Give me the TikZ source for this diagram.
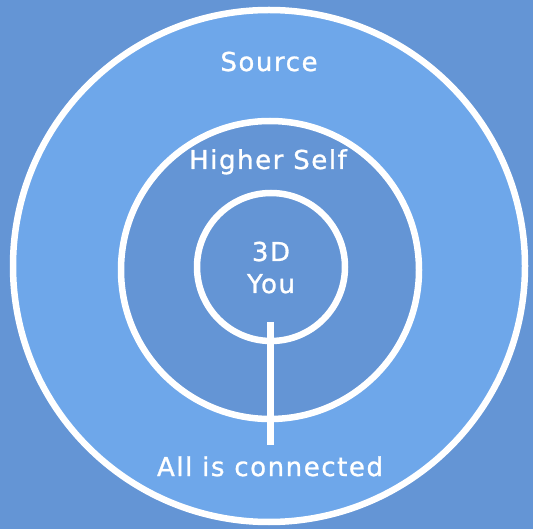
\documentclass[tikz,border=0pt]{standalone}
\usepackage{fontspec}
\setmainfont{DejaVu Sans}[LetterSpace=6,FakeBold=1]
\definecolor{bgblue}{HTML}{6495D5}
\definecolor{ringblue}{HTML}{6EA7EA}
\begin{document}
\begin{tikzpicture}[x=1pt,y=-1pt,
  ring/.style={circle,draw=white,line width=6.5pt,inner sep=0pt},
  lbl/.style={text=white,font=\fontsize{26}{30}\selectfont,anchor=base,inner sep=0pt}]
\fill[bgblue] (0,0) rectangle (533,529);
\useasboundingbox (0,0) rectangle (533,529);
\node[ring,fill=ringblue,minimum size=512pt] (outer) at (269,266) {};
\node[ring,fill=bgblue,minimum size=298pt] (middle) at (270,270) {};
\node[ring,fill=bgblue,minimum size=148pt] (inner) at (271,267) {};
\coordinate (ltop) at (270.5,322);
\coordinate (lbot) at (270.5,445);
\draw[white,line width=6.5pt] (ltop) -- (lbot);
\node[lbl] (source) at (269,71) {Source};
\node[lbl] (higher) at (268,169) {Higher Self};
\node[lbl] (d3) at (271,261) {3D};
\node[lbl] (you) at (271,293) {You};
\node[lbl] (all) at (270,476) {All is connected};
\end{tikzpicture}
\end{document}
